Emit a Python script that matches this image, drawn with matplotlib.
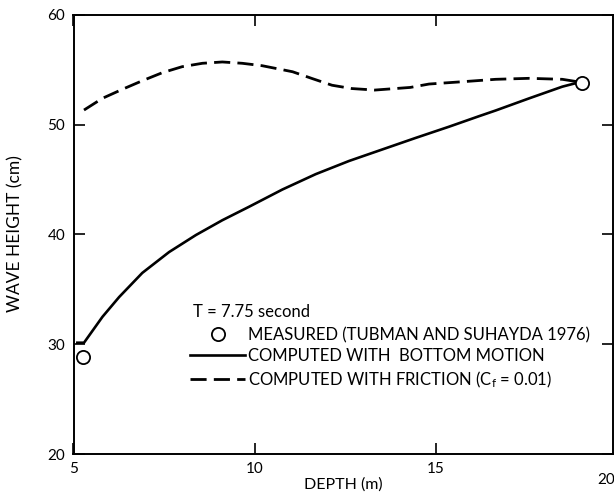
import matplotlib
matplotlib.use("Agg")
import matplotlib.pyplot as plt
from matplotlib.lines import Line2D

plt.rcParams['font.family'] = ['Lato', 'DejaVu Sans']
plt.rcParams['mathtext.default'] = 'regular'

# Computed with bottom motion (solid)
depth_bottom = [5.07, 5.29, 5.8, 6.26, 6.9, 7.64, 8.38, 9.11, 9.85, 10.77, 11.69,
                12.61, 13.53, 14.45, 15.37, 16.2, 16.66, 17.58, 18.5, 18.92]
height_bottom = [30.14, 30.14, 32.5, 34.3, 36.5, 38.4, 39.95, 41.3, 42.53, 44.1, 45.5,
                 46.7, 47.75, 48.8, 49.82, 50.78, 51.3, 52.4, 53.47, 53.83]

# Computed with friction (dashed)
depth_friction = [5.29, 5.8, 6.35, 6.9, 7.45, 8.0, 8.56, 9.11, 9.66, 10.21, 11.05,
                  11.6, 12.14, 12.68, 13.32, 14.3, 14.82, 15.74, 16.66, 17.58, 18.5, 18.92]
height_friction = [51.34, 52.41, 53.23, 54.01, 54.74, 55.29, 55.6, 55.72, 55.6, 55.38, 54.83,
                   54.2, 53.6, 53.3, 53.16, 53.4, 53.71, 53.92, 54.14, 54.23, 54.14, 53.92]

# Measured (Tubman and Suhayda 1976)
depth_measured = [5.27, 19.05]
height_measured = [28.8, 53.83]

xticks = [5, 10, 15]
xtick_cut = '20'
yticks = [20, 30, 40, 50, 60]

fig = plt.figure(figsize=(6.14, 5.0), dpi=100)
L, R, T, B = 73.5, 613.0, 15.0, 454.0
ax = fig.add_axes([L/614, (500-B)/500, (R-L)/614, (B-T)/500])

ax.plot(depth_bottom, height_bottom, color='black', lw=1.9, solid_capstyle='butt',
        solid_joinstyle='round')
ax.plot(depth_friction, height_friction, color='black', lw=2.0, dashes=(5.8, 2.6))
ax.plot(depth_measured, height_measured, 'o', mfc='white', mec='black', ms=9.5, mew=1.3,
        clip_on=False, zorder=5)

ax.set_xlim(5, 19.9)
ax.set_ylim(20, 60)
ax.set_xticks(xticks)
ax.set_yticks(yticks)
ax.tick_params(direction='in', top=True, right=True, length=8, width=1.2,
               labelsize=11, pad=6)
ax.annotate(xtick_cut, xy=((606 - L) / (R - L), 0), xycoords='axes fraction',
            xytext=(0, -14), textcoords='offset points', ha='center', va='top',
            fontsize=11, annotation_clip=False)
for s in ax.spines.values():
    s.set_linewidth(1.4)

ax.set_xlabel('DEPTH (m)', fontsize=11.5)
ax.xaxis.set_label_coords(0.5, (B - 477) / (B - T))
ax.set_ylabel('WAVE HEIGHT (cm)', fontsize=12.5)
ax.yaxis.set_label_coords((23 - L) / (R - L), 0.503)

ax.text((193 - L) / (R - L), (B - 304) / (B - T), 'T = 7.75 second',
        transform=ax.transAxes, ha='left', va='top', fontsize=12)

handles = [
    Line2D([], [], marker='o', ls='none', mfc='white', mec='black', ms=9.5, mew=1.3),
    Line2D([], [], color='black', lw=1.9),
    Line2D([], [], color='black', lw=2.0, dashes=(5.8, 2.6)),
]
labels = ['MEASURED (TUBMAN AND SUHAYDA 1976)',
          'COMPUTED WITH  BOTTOM MOTION',
          'COMPUTED WITH FRICTION (C$_f$ = 0.01)']
leg = ax.legend(handles, labels, loc='upper left',
                bbox_to_anchor=((190 - L) / (R - L), (B - 327) / (B - T)),
                frameon=False, fontsize=12, handlelength=3.3,
                handletextpad=0.2, borderpad=0, borderaxespad=0, labelspacing=0.3)

fig.savefig('out.png', dpi=100)
